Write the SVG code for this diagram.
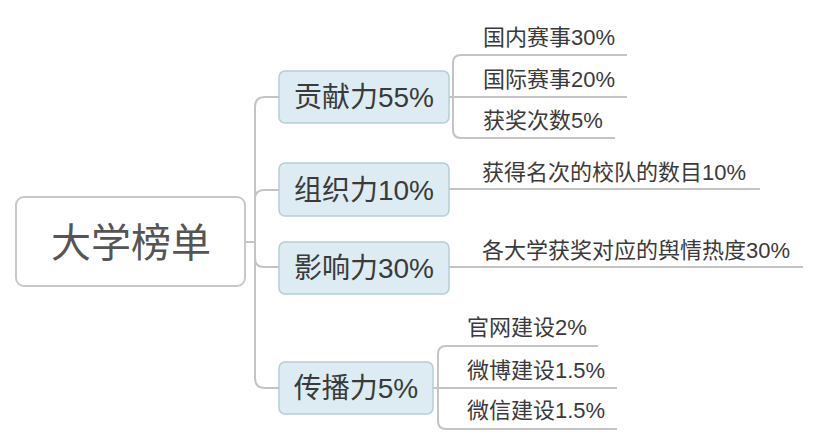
<svg xmlns="http://www.w3.org/2000/svg" width="824" height="446" viewBox="0 0 824 446">
<style>
.conn{fill:none;stroke:#c4c4c4;stroke-width:2}
.main rect{fill:#dcecf2;stroke:#b6cdd5;stroke-width:1.5}
.main text{font-family:"Liberation Sans","Noto Sans CJK SC",sans-serif;font-size:28px;fill:#3a3a3a;text-anchor:middle}
.sub text{font-family:"Liberation Sans","Noto Sans CJK SC",sans-serif;font-size:22px;fill:#3a3a3a}
.root rect{fill:#ffffff;stroke:#c8c8c8;stroke-width:2}
.root text{font-family:"Liberation Sans","Noto Sans CJK SC",sans-serif;font-size:40px;fill:#555555;text-anchor:middle}
</style>
<rect width="824" height="446" fill="#ffffff"/>
<g id="connectors">
<path class="conn" d="M245 242 L255 242"/>
<path class="conn" d="M279 97 L265 97 Q255 97 255 107 L255 378 Q255 388 265 388 L279 388"/>
<path class="conn" d="M279 190 L264 190 Q255 190 255 199"/>
<path class="conn" d="M279 267 L264 267 Q255 267 255 258"/>
<path class="conn" d="M449 97 L627 97"/>
<path class="conn" d="M627 55 L461 55 Q453 55 453 63 L453 130 Q453 138 461 138 L615 138"/>
<path class="conn" d="M449 189 L760 189"/>
<path class="conn" d="M449 267 L803 267"/>
<path class="conn" d="M433 388 L617 388"/>
<path class="conn" d="M598 346 L446 346 Q438 346 438 354 L438 421 Q438 429 446 429 L617 429"/>
</g>
<g id="root" class="root">
<rect x="16" y="197" width="229" height="89" rx="8"/>
<text x="131" y="257">大学榜单</text>
</g>
<g id="n-gongxian" class="main">
<rect x="279" y="71" width="170" height="52" rx="6"/>
<text x="364" y="107">贡献力55%</text>
</g>
<g id="n-zuzhi" class="main">
<rect x="279" y="163" width="170" height="53" rx="6"/>
<text x="364" y="200">组织力10%</text>
</g>
<g id="n-yingxiang" class="main">
<rect x="279" y="242" width="170" height="52" rx="6"/>
<text x="364" y="278">影响力30%</text>
</g>
<g id="n-chuanbo" class="main">
<rect x="279" y="362" width="154" height="52" rx="6"/>
<text x="356" y="398">传播力5%</text>
</g>
<g id="s-guonei" class="sub"><text x="483" y="45">国内赛事30%</text></g>
<g id="s-guoji" class="sub"><text x="483" y="87">国际赛事20%</text></g>
<g id="s-huojiang" class="sub"><text x="483" y="128">获奖次数5%</text></g>
<g id="s-mingci" class="sub"><text x="482" y="180">获得名次的校队的数目10%</text></g>
<g id="s-yuqing" class="sub"><text x="482" y="258">各大学获奖对应的舆情热度30%</text></g>
<g id="s-guanwang" class="sub"><text x="467" y="335">官网建设2%</text></g>
<g id="s-weibo" class="sub"><text x="467" y="378">微博建设1.5%</text></g>
<g id="s-weixin" class="sub"><text x="467" y="418">微信建设1.5%</text></g>
</svg>
